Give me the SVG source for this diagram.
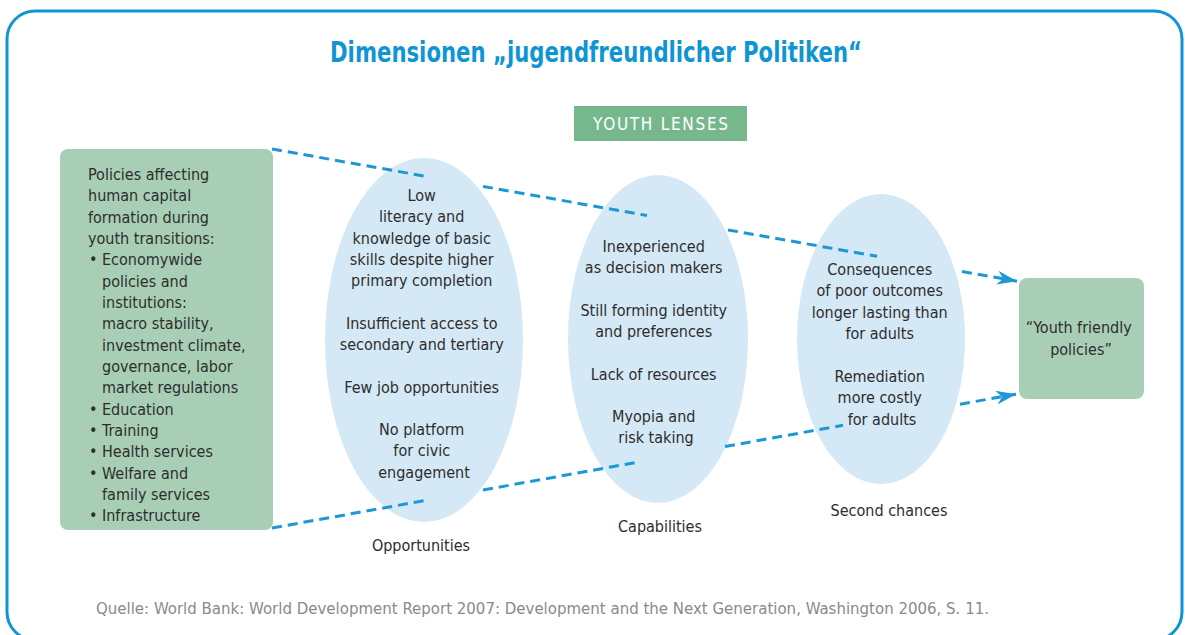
<svg xmlns="http://www.w3.org/2000/svg" width="1185" height="635" viewBox="0 0 1185 635">
<style>
.t{font-family:"DejaVu Sans Condensed","DejaVu Sans",sans-serif;font-stretch:condensed;font-size:16px;fill:#2d2d2d}
.c{text-anchor:middle}
.green{fill:#a8cfb6}
.lens{fill:#d5e8f6}
.dash{fill:none;stroke:#1b98d5;stroke-width:3;stroke-dasharray:10 6}
</style>
<defs>
<marker id="arr" markerUnits="userSpaceOnUse" markerWidth="22" markerHeight="16" refX="20" refY="7" orient="auto">
<path d="M0,0 L20,7 L0,14 L6,7 Z" fill="#1b98d5"/>
</marker>
</defs>
<rect x="7" y="11" width="1175" height="629" rx="28" fill="#fff" stroke="#0f95d3" stroke-width="3"/>
<text x="596" y="62" text-anchor="middle" textLength="532" lengthAdjust="spacingAndGlyphs" style="font-family:'DejaVu Sans Condensed','DejaVu Sans',sans-serif;font-weight:bold;font-size:28px;fill:#0f95d3">Dimensionen „jugendfreundlicher Politiken“</text>
<g id="youth-lenses">
<rect x="574" y="106" width="173" height="35" fill="#76b88c"/>
<text class="t" x="660.5" y="130" text-anchor="middle" textLength="135" lengthAdjust="spacing" style="fill:#fff;font-size:17px">YOUTH LENSES</text>
</g>
<g id="ellipses">
<ellipse id="opportunities-lens" class="lens" cx="424" cy="340" rx="99" ry="182"/>
<ellipse id="capabilities-lens" class="lens" cx="658" cy="339" rx="90" ry="164"/>
<ellipse id="second-chances-lens" class="lens" cx="881" cy="339" rx="84" ry="145"/>
</g>
<g id="connectors">
<path class="dash" d="M272,149 L428,176.7"/>
<path class="dash" d="M483,186.4 L647,215.5"/>
<path class="dash" d="M728,229.9 L877,256.3"/>
<path class="dash" d="M962,271.4 L1017,281.2" marker-end="url(#arr)"/>
<path class="dash" d="M272,528 L425,500.5"/>
<path class="dash" d="M483,490 L637,462.3"/>
<path class="dash" d="M725,446.5 L843,425.3"/>
<path class="dash" d="M960,404.2 L1016,394.2" marker-end="url(#arr)"/>
</g>
<g id="policies">
<rect class="green" x="60" y="149" width="213" height="381" rx="8"/>
<text class="t">
<tspan x="88" y="180">Policies affecting</tspan>
<tspan x="88" y="201.3">human capital</tspan>
<tspan x="88" y="222.6">formation during</tspan>
<tspan x="88" y="244">youth transitions:</tspan>
<tspan x="89" y="265.3">•</tspan><tspan x="102" y="265.3">Economywide</tspan>
<tspan x="102" y="286.6">policies and</tspan>
<tspan x="102" y="308">institutions:</tspan>
<tspan x="102" y="329.3">macro stability,</tspan>
<tspan x="102" y="350.6">investment climate,</tspan>
<tspan x="102" y="372">governance, labor</tspan>
<tspan x="102" y="393.3">market regulations</tspan>
<tspan x="89" y="414.6">•</tspan><tspan x="102" y="414.6">Education</tspan>
<tspan x="89" y="436">•</tspan><tspan x="102" y="436">Training</tspan>
<tspan x="89" y="457.3">•</tspan><tspan x="102" y="457.3">Health services</tspan>
<tspan x="89" y="478.6">•</tspan><tspan x="102" y="478.6">Welfare and</tspan>
<tspan x="102" y="500">family services</tspan>
<tspan x="89" y="521.3">•</tspan><tspan x="102" y="521.3">Infrastructure</tspan>
</text>
</g>
<g id="opportunities">
<text class="t c">
<tspan x="424" y="201">Low</tspan>
<tspan x="424" y="222.3">literacy and</tspan>
<tspan x="424" y="243.6">knowledge of basic</tspan>
<tspan x="424" y="265">skills despite higher</tspan>
<tspan x="424" y="286.3">primary completion</tspan>
<tspan x="424" y="329">Insufficient access to</tspan>
<tspan x="424" y="350.3">secondary and tertiary</tspan>
<tspan x="424" y="393">Few job opportunities</tspan>
<tspan x="424" y="435">No platform</tspan>
<tspan x="424" y="456.3">for civic</tspan>
<tspan x="424" y="477.6">engagement</tspan>
</text>
<text class="t c" x="421" y="551">Opportunities</text>
</g>
<g id="capabilities">
<text class="t c">
<tspan x="656" y="252">Inexperienced</tspan>
<tspan x="656" y="273.3">as decision makers</tspan>
<tspan x="656" y="316">Still forming identity</tspan>
<tspan x="656" y="337.3">and preferences</tspan>
<tspan x="656" y="380">Lack of resources</tspan>
<tspan x="656" y="422">Myopia and</tspan>
<tspan x="656" y="443.3">risk taking</tspan>
</text>
<text class="t c" x="660" y="532">Capabilities</text>
</g>
<g id="second-chances">
<text class="t c">
<tspan x="882" y="275">Consequences</tspan>
<tspan x="882" y="296.3">of poor outcomes</tspan>
<tspan x="882" y="317.6">longer lasting than</tspan>
<tspan x="882" y="339">for adults</tspan>
<tspan x="882" y="382">Remediation</tspan>
<tspan x="882" y="403.3">more costly</tspan>
<tspan x="882" y="424.6">for adults</tspan>
</text>
<text class="t c" x="889" y="516">Second chances</text>
</g>
<g id="youth-friendly-policies">
<rect class="green" x="1019" y="278" width="125" height="121" rx="8"/>
<text class="t c">
<tspan x="1081" y="333">“Youth friendly</tspan>
<tspan x="1081" y="355">policies”</tspan>
</text>
</g>
<text x="96" y="614" textLength="893" lengthAdjust="spacingAndGlyphs" style="font-family:'DejaVu Sans Condensed','DejaVu Sans',sans-serif;font-stretch:condensed;font-size:15.5px;fill:#8a8a8a">Quelle: World Bank: World Development Report 2007: Development and the Next Generation, Washington 2006, S. 11.</text>
</svg>
